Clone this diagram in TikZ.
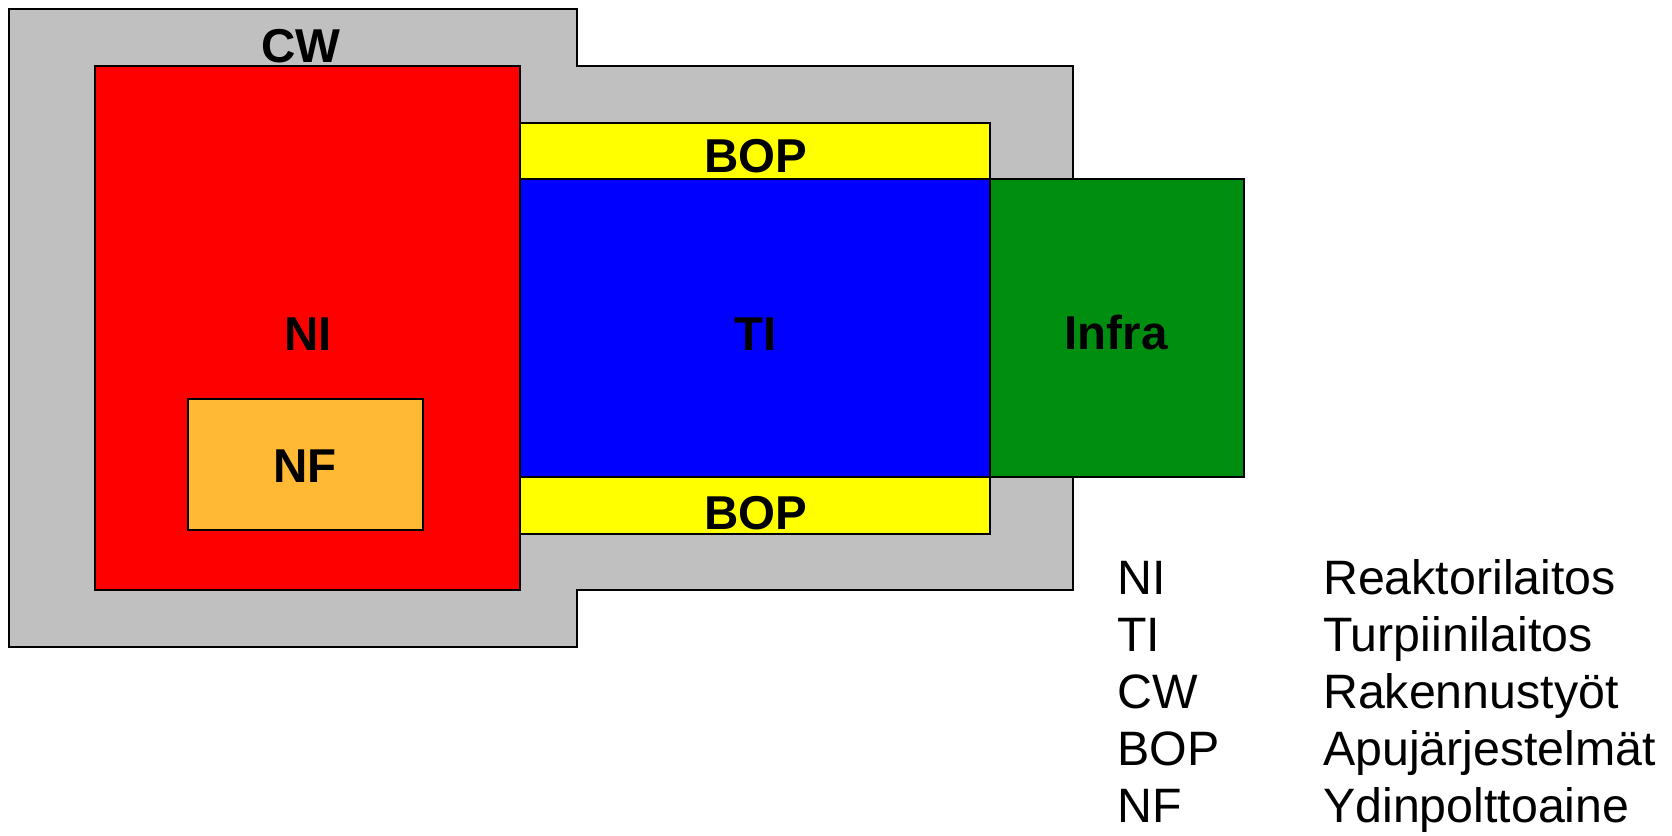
\documentclass[tikz,border=0pt]{standalone}
\usepackage{fontspec}
\setmainfont{Liberation Sans}
\definecolor{cwgray}{RGB}{192,192,192}
\definecolor{nired}{RGB}{255,0,0}
\definecolor{bopyellow}{RGB}{255,255,0}
\definecolor{tiblue}{RGB}{0,0,255}
\definecolor{infragreen}{RGB}{0,142,17}
\definecolor{nforange}{RGB}{255,185,53}
\tikzset{
  area/.style={draw=black, line width=2.6pt, rectangle, inner sep=0pt, outer sep=0pt, anchor=north west},
  biglabel/.style={anchor=base, inner sep=0pt, font=\fontsize{47.5}{57}\selectfont\bfseries},
  legend/.style={anchor=base west, inner sep=0pt, font=\fontsize{48.3}{57}\selectfont},
}
\begin{document}
\begin{tikzpicture}[x=1pt, y=-1pt]
\useasboundingbox (0,0) rectangle (1672,835);
% CW outline
\draw[fill=cwgray, line width=2.6pt, line join=miter]
  (9,9) -- (577,9) -- (577,66) -- (1073,66) -- (1073,590) -- (577,590) -- (577,647) -- (9,647) -- cycle;
\coordinate (cw) at (301,62);
% NI
\node[area, fill=nired, minimum width=425pt, minimum height=524pt] (ni) at (95,66) {};
% BOP top
\node[area, fill=bopyellow, minimum width=470pt, minimum height=56pt] (boptop) at (520,123) {};
% TI
\node[area, fill=tiblue, minimum width=470pt, minimum height=298pt] (ti) at (520,179) {};
% BOP bottom
\node[area, fill=bopyellow, minimum width=470pt, minimum height=57pt] (bopbot) at (520,477) {};
% Infra
\node[area, fill=infragreen, minimum width=254pt, minimum height=298pt] (infra) at (990,179) {};
% NF
\node[area, fill=nforange, minimum width=235pt, minimum height=131pt] (nf) at (188,399) {};
% labels
\node[biglabel] (cwl) at (cw) {CW};
\node[biglabel] (nil) at (308,350) {NI};
\node[biglabel] (til) at (756,350) {TI};
\node[biglabel] (infral) at (1116,349) {Infra};
\node[biglabel] (boptl) at (756,172) {BOP};
\node[biglabel] (bopbl) at (756,529) {BOP};
\node[biglabel] (nfl) at (305,482) {NF};
% legend
\node[legend] (k1) at (1117,594) {NI};
\node[legend] (k2) at (1117,651) {TI};
\node[legend] (k3) at (1117,708) {CW};
\node[legend] (k4) at (1117,765) {BOP};
\node[legend] (k5) at (1117,822) {NF};
\node[legend] (v1) at (1323,594) {Reaktorilaitos};
\node[legend] (v2) at (1323,651) {Turpiinilaitos};
\node[legend] (v3) at (1323,708) {Rakennustyöt};
\node[legend] (v4) at (1323,765) {Apujärjestelmät};
\node[legend] (v5) at (1323,822) {Ydinpolttoaine};
\end{tikzpicture}
\end{document}
